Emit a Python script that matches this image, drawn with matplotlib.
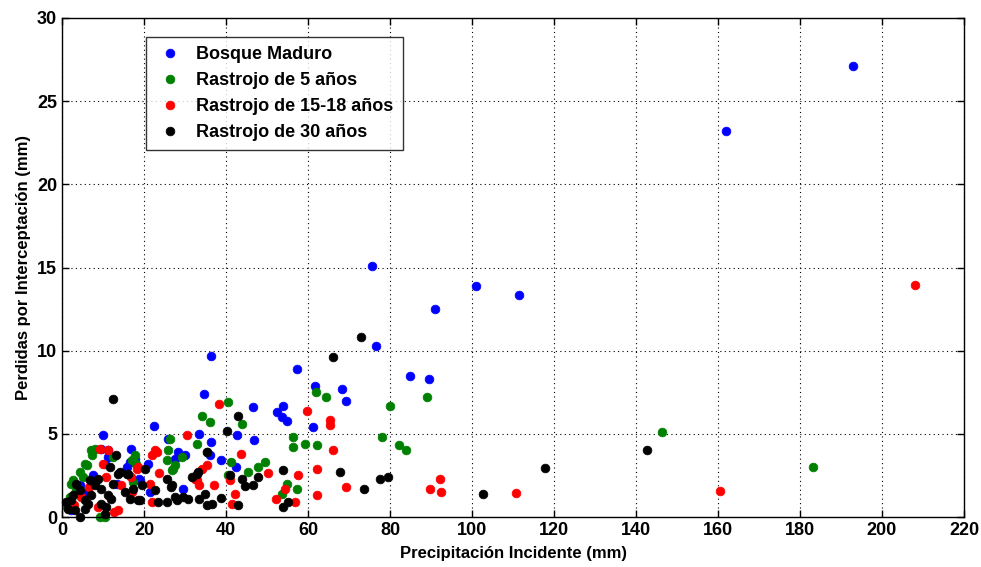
import matplotlib
matplotlib.use("Agg")
import matplotlib.pyplot as plt

plt.rcParams['font.family'] = ['Liberation Sans', 'DejaVu Sans']
plt.rcParams['font.weight'] = 'bold'

series_names = ["Bosque Maduro", "Rastrojo de 5 años",
                "Rastrojo de 15-18 años", "Rastrojo de 30 años"]
series_colors = ["#0000ff", "#008000", "#ff0000", "#000000"]

# Precipitación incidente (mm) y pérdidas por interceptación (mm)
bosque_x = [193, 162, 75.5, 101, 111.5, 91, 76.5, 85, 89.5,
            36.4, 57.3, 61.7, 68.3, 69.3, 34.6, 46.6, 53.9, 52.4, 53.6, 54.8,
            61.2, 36.4, 42.8, 46.8, 33.4, 36.2, 38.9, 42.4, 22.4, 10, 16.8,
            9.5, 11.2, 16.6, 17.8, 10.5, 6.3, 2.2, 1.5, 21, 28.3, 30, 25.9,
            19, 21.5, 29.5, 18.8, 27.6, 15.9, 11.2, 4.5, 7.5, 13.5]
bosque_y = [27.1, 23.2, 15.1, 13.9, 13.35, 12.5, 10.3, 8.5, 8.3,
            9.7, 8.9, 7.9, 7.7, 7.0, 7.4, 6.6, 6.7, 6.3, 6.0, 5.8,
            5.4, 4.5, 4.9, 4.6, 5.0, 3.7, 3.4, 3.0, 5.5, 4.9, 4.1,
            4.1, 4.0, 3.3, 3.5, 3.2, 1.5, 0.4, 0.8, 3.2, 3.9, 3.7, 4.7,
            2.2, 1.5, 1.7, 2.3, 3.5, 3.0, 3.6, 1.9, 2.5, 2.0]

r5_x = [183.2, 146.3, 80, 89, 78, 82.2, 83.9, 62, 64.4, 56.3, 56.3, 59.3,
        62.2, 54.9, 57.3, 53.7, 40.4, 34.1, 36.1, 43.8, 32.9, 35.4, 41.3,
        45.4, 47.7, 49.5, 40.5, 26.3, 25.9, 29.3, 27.1, 17.8, 17.1, 8, 7.3,
        6.1, 4.4, 2.7, 2, 10.5, 7, 5.6, 2.2, 12.4, 18, 9.3, 25.6, 27.6,
        26.8, 17.3, 3.5, 5.0, 1.2]
r5_y = [3.0, 5.1, 6.7, 7.2, 4.8, 4.3, 4.0, 7.5, 7.2, 4.8, 4.2, 4.4,
        4.3, 2.0, 1.7, 1.4, 6.9, 6.1, 5.7, 5.6, 4.4, 3.9, 3.3,
        2.7, 3.0, 3.3, 2.5, 4.7, 4.0, 3.6, 2.9, 3.7, 3.4, 4.1, 3.7,
        3.1, 2.7, 2.2, 1.2, 0.0, 4.0, 3.2, 2.0, 3.6, 3.2, 0.0, 3.4, 3.1,
        2.8, 2.1, 1.6, 2.4, 0.6]

r15_x = [208, 160.5, 110.7, 89.8, 92.2, 92.4, 69.3, 59.8, 65.4, 65.4, 66.1,
         57.5, 62.2, 54.4, 56.8, 62.1, 52.3, 38.3, 43.7, 35.4, 41, 37.1,
         42.1, 41.5, 50.2, 32.9, 33.4, 30.6, 23.2, 22, 11.2, 18.3, 23.6,
         12.7, 22, 9.3, 10, 10.7, 8.8, 13.7, 16.8, 4.6, 22.7, 21.5, 32.4,
         18.5, 17.1, 34.1, 3.0, 6.5, 14.5]
r15_y = [13.95, 1.55, 1.45, 1.7, 2.3, 1.5, 1.8, 6.4, 5.85, 5.55, 4.0,
         2.5, 2.9, 1.7, 0.9, 1.3, 1.1, 6.8, 3.8, 3.1, 2.2, 1.9,
         1.4, 0.8, 2.65, 2.2, 1.9, 4.9, 3.9, 3.7, 4.0, 2.9, 2.65,
         0.3, 0.9, 4.1, 3.2, 2.4, 0.6, 0.4, 2.4, 1.2, 4.0, 2.0, 2.3,
         3.0, 1.5, 2.9, 0.7, 1.8, 1.9]

r30_x = [142.7, 117.8, 102.7, 79.5, 77.6, 73.6, 67.7, 66.2, 73, 54, 53.8,
         55.1, 42.9, 40.2, 35.4, 33.2, 34.9, 33.4, 35.4, 36.7, 38.8, 43.9,
         44.6, 46.7, 47.8, 43, 41, 12.4, 13.2, 20.2, 11.7, 13.7, 15.9, 31.7,
         26.6, 23.4, 25.6, 27.6, 29.5, 30.7, 19, 14.1, 16.1, 8.8, 6.8, 3.4,
         4.4, 2.7, 7.1, 9.5, 11.2, 12, 15.4, 16.6, 17.3, 1.5, 3.2, 4.4, 6.3,
         5.6, 9.5, 10.7, 10.5, 2.2, 1, 19.5, 18.5, 22.7, 25.6, 26.8, 28, 32.9,
         5.5, 8.0, 12.5]
r30_y = [4.0, 2.95, 1.4, 2.4, 2.3, 1.7, 2.7, 9.6, 10.85, 2.8, 0.6,
         0.9, 6.1, 5.2, 3.9, 2.7, 1.4, 1.1, 0.7, 0.8, 1.15, 2.3,
         1.85, 1.9, 2.4, 0.7, 2.5, 7.1, 3.7, 2.9, 3.0, 2.6, 2.6, 2.4,
         1.8, 0.9, 0.9, 1.2, 1.2, 1.1, 1.0, 2.7, 2.6, 2.3, 2.2, 2.0,
         1.6, 1.3, 1.3, 1.7, 1.3, 1.1, 1.5, 1.1, 1.7, 0.5, 0.4, 0.0, 0.8,
         0.5, 0.8, 0.6, 0.2, 1.0, 0.9, 1.9, 1.0, 1.6, 2.3, 1.9, 1.0, 2.6,
         1.0, 1.9, 2.0]

x_ticks = [0, 20, 40, 60, 80, 100, 120, 140, 160, 180, 200, 220]
y_ticks = [0, 5, 10, 15, 20, 25, 30]

fig = plt.figure(figsize=(9.81, 5.67), dpi=100)
ax = fig.add_axes([62 / 981, 50 / 567, 902 / 981, 499 / 567])

all_x = [bosque_x, r5_x, r15_x, r30_x]
all_y = [bosque_y, r5_y, r15_y, r30_y]
for xs, ys, name, col in zip(all_x, all_y, series_names, series_colors):
    ax.plot(xs, ys, linestyle='none', marker='o', markersize=6.3,
            markerfacecolor=col, markeredgecolor=col, markeredgewidth=0.5,
            label=name, clip_on=False)

ax.set_xlim(0, 220)
ax.set_ylim(0, 30)
ax.set_xticks(x_ticks)
ax.set_yticks(y_ticks)
ax.tick_params(direction='in', top=True, right=True, length=5,
               labelsize=13, width=1)
for lab in ax.get_xticklabels() + ax.get_yticklabels():
    lab.set_fontweight('bold')
ax.grid(True, linestyle=(0, (1, 3)), color='black', linewidth=0.8)
ax.set_axisbelow(True)
for sp in ax.spines.values():
    sp.set_linewidth(1.0)

ax.set_xlabel("Precipitación Incidente (mm)", fontsize=12, fontweight='bold',
              labelpad=5)
ax.set_ylabel("Perdidas por Interceptación (mm)", fontsize=12,
              fontweight='bold', labelpad=4)

leg = ax.legend(loc='upper left', bbox_to_anchor=(0.093, 0.962),
                borderaxespad=0, fontsize=13, frameon=True, fancybox=False,
                borderpad=0.5, handletextpad=0.6, labelspacing=0.5,
                markerscale=1.0, handlelength=1.7)
leg.get_frame().set_edgecolor('black')
leg.get_frame().set_linewidth(1.0)
for t in leg.get_texts():
    t.set_fontweight('bold')

fig.savefig("out.png", dpi=100)
